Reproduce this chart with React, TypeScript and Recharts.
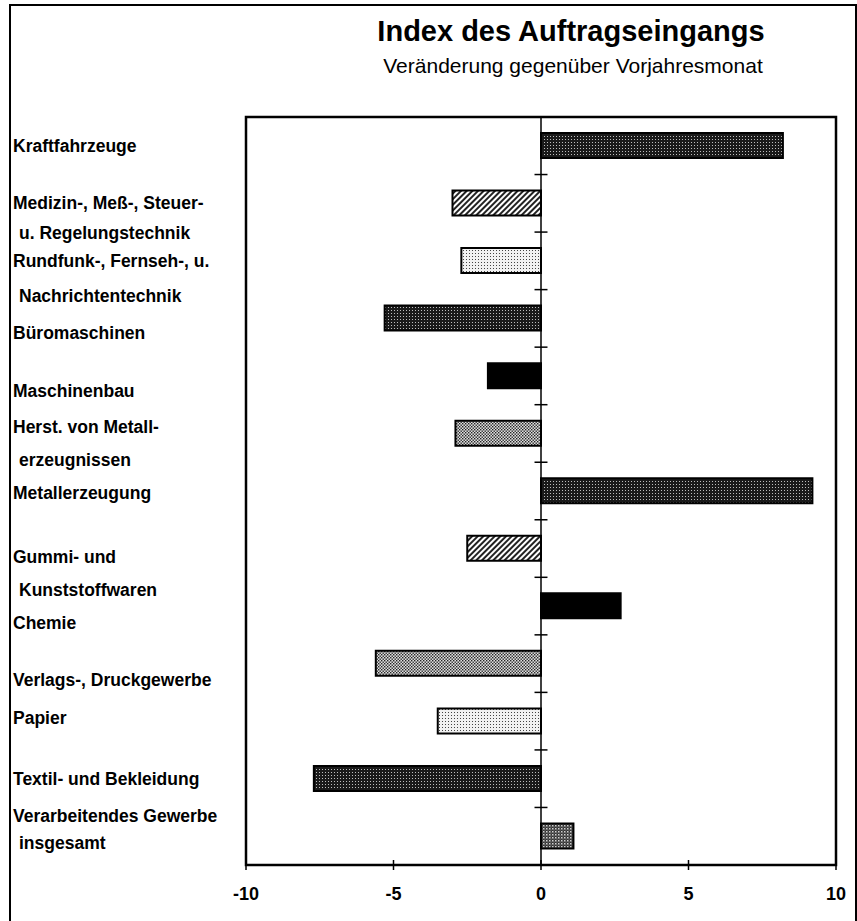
import React from 'react';
import {
  BarChart,
  Bar,
  Cell,
  XAxis,
  YAxis,
  ReferenceLine,
  ReferenceArea
} from 'recharts';

// Kategorien von oben nach unten, mehrzeilige Labels als Zeilenlisten
const categories: string[] = [
  'Kraftfahrzeuge',
  'Medizin-, Meß-, Steuer-',
  'Rundfunk-, Fernseh-, u.',
  'Büromaschinen',
  'Maschinenbau',
  'Herst. von Metall-',
  'Metallerzeugung',
  'Gummi- und',
  'Chemie',
  'Verlags-, Druckgewerbe',
  'Papier',
  'Textil- und Bekleidung',
  'Verarbeitendes Gewerbe'
];

const secondLines: string[] = [
  '',
  'u. Regelungstechnik',
  'Nachrichtentechnik',
  '',
  '',
  'erzeugnissen',
  '',
  'Kunststoffwaren',
  '',
  '',
  '',
  '',
  'insgesamt'
];

// Veränderung gegenüber Vorjahresmonat in %
const changes: number[] = [8.2, -3.0, -2.7, -5.3, -1.8, -2.9, 9.2, -2.5, 2.7, -5.6, -3.5, -7.7, 1.1];

const xTicks: number[] = [-10, -5, 0, 5, 10];

// Muster je Balken
const barPatterns: string[] = [
  'darkDots', 'hatch', 'lightDots', 'darkDots', 'solid', 'medDots', 'darkDots',
  'hatch', 'solid', 'medDots', 'lightDots', 'darkDots', 'checker'
];

// Lage der Textzeilen (px relativ zur Bandmitte), wie im Original-Textblock
const labelShift: number[][] = [
  [0], [0, 30], [0, 35], [14], [15], [-7, 26], [2], [8, 41], [17], [16], [-3], [0], [-20, 7]
];

const FONT = '"Liberation Sans", Arial, Helvetica, sans-serif';
const TICK_SIZE = 5;
const TICK_MARGIN = 17;

const data = categories.map((name, i) => ({
  name,
  second: secondLines[i],
  value: changes[i]
}));

const styles = {
  page: {
    position: 'absolute' as const,
    left: 0,
    top: 0,
    width: '857px',
    height: '921px',
    overflow: 'hidden',
    background: '#ffffff',
    fontFamily: FONT
  },
  frame: {
    position: 'absolute' as const,
    left: '9px',
    top: '4px',
    width: '844px',
    height: '960px',
    border: '2px solid #000'
  },
  title: {
    position: 'absolute' as const,
    left: '300px',
    width: '542px',
    top: '15px',
    textAlign: 'center' as const,
    fontSize: '29px',
    fontWeight: 'bold' as const,
    color: '#000'
  },
  subtitle: {
    position: 'absolute' as const,
    left: '300px',
    width: '546px',
    top: '54px',
    textAlign: 'center' as const,
    fontSize: '21px',
    color: '#000'
  },
  chart: {
    position: 'absolute' as const,
    left: 0,
    top: 0
  }
};

const CategoryTick = (props: any) => {
  const { y, payload, index } = props;
  const item = data[index];
  const shifts = labelShift[index] || [0];
  return (
    <g>
      <text
        x={13}
        y={y + shifts[0]}
        dy="0.35em"
        fontFamily={FONT}
        fontSize={17.5}
        fontWeight="bold"
        fill="#000"
      >
        {payload.value}
      </text>
      {item && item.second ? (
        <text
          x={19}
          y={y + (shifts[1] ?? 32)}
          dy="0.35em"
          fontFamily={FONT}
          fontSize={17.5}
          fontWeight="bold"
          fill="#000"
        >
          {item.second}
        </text>
      ) : null}
    </g>
  );
};

// Zahl unter der Achse plus kleiner Strich nach oben (Kreuz-Tick wie im Original)
const ValueTick = (props: any) => {
  const { x, y, payload } = props;
  const axisY = y - TICK_SIZE - TICK_MARGIN;
  return (
    <g>
      <line x1={x} x2={x} y1={axisY} y2={axisY - 5} stroke="#000" strokeWidth={1.5} />
      <text
        x={x}
        y={y}
        dy="0.71em"
        textAnchor="middle"
        fontFamily={FONT}
        fontSize={18}
        fontWeight="bold"
        fill="#000"
      >
        {payload.value}
      </text>
    </g>
  );
};

const Patterns = () => (
  <defs>
    <pattern id="darkDots" width="3" height="3" patternUnits="userSpaceOnUse">
      <rect width="3" height="3" fill="#1a1a1a" />
      <rect x="1" y="1" width="1" height="1" fill="#bdbdbd" />
    </pattern>
    <pattern id="hatch" width="4" height="4" patternUnits="userSpaceOnUse" patternTransform="rotate(45)">
      <rect width="4" height="4" fill="#ffffff" />
      <rect width="2" height="4" fill="#222" />
    </pattern>
    <pattern id="lightDots" width="3" height="3" patternUnits="userSpaceOnUse">
      <rect width="3" height="3" fill="#f2f2f2" />
      <rect x="1" y="1" width="1" height="1" fill="#444" />
    </pattern>
    <pattern id="medDots" width="3" height="3" patternUnits="userSpaceOnUse">
      <rect width="3" height="3" fill="#e0e0e0" />
      <rect x="0" y="0" width="1.4" height="1.4" fill="#222" />
      <rect x="1.5" y="1.5" width="1.4" height="1.4" fill="#222" />
    </pattern>
    <pattern id="checker" width="3" height="3" patternUnits="userSpaceOnUse">
      <rect width="3" height="3" fill="#333" />
      <rect x="0" y="0" width="1.5" height="1.5" fill="#d0d0d0" />
      <rect x="1.5" y="1.5" width="1" height="1" fill="#999" />
    </pattern>
  </defs>
);

const App: React.FC = () => {
  return (
    <div style={styles.page}>
      <div style={styles.frame} />
      <div style={styles.title}>Index des Auftragseingangs</div>
      <div style={styles.subtitle}>Veränderung gegenüber Vorjahresmonat</div>
      <div style={styles.chart}>
        <BarChart
          width={857}
          height={921}
          data={data}
          layout="vertical"
          margin={{ top: 117, right: 21, bottom: 26, left: 10 }}
          barCategoryGap={0}
        >
          <Patterns />
          <XAxis
            type="number"
            domain={[-10, 10]}
            ticks={xTicks}
            allowDataOverflow
            axisLine={false}
            tickLine={{ stroke: '#000', strokeWidth: 1.5 }}
            tickSize={TICK_SIZE}
            tickMargin={TICK_MARGIN}
            height={30}
            tick={<ValueTick />}
          />
          <YAxis
            type="category"
            dataKey="name"
            width={236}
            axisLine={false}
            tickLine={false}
            interval={0}
            tick={<CategoryTick />}
          />
          <ReferenceArea
            x1={-10}
            x2={10}
            fill="none"
            stroke="#000"
            strokeWidth={2.5}
            ifOverflow="visible"
          />
          <ReferenceLine x={0} stroke="#000" strokeWidth={1.5} />
          {/* kleine Striche an der Nulllinie zwischen den Kategorien */}
          {categories.slice(1).map((c) => (
            <ReferenceLine
              key={c}
              segment={[{ x: -0.22, y: c }, { x: 0.22, y: c }]}
              position="start"
              stroke="#000"
              strokeWidth={1.5}
              ifOverflow="visible"
            />
          ))}
          <Bar
            dataKey="value"
            barSize={25}
            stroke="#000"
            strokeWidth={2}
            isAnimationActive={false}
          >
            {data.map((d, i) => (
              <Cell
                key={d.name}
                fill={barPatterns[i] === 'solid' ? '#000' : `url(#${barPatterns[i]})`}
              />
            ))}
          </Bar>
        </BarChart>
      </div>
    </div>
  );
};

export default App;
